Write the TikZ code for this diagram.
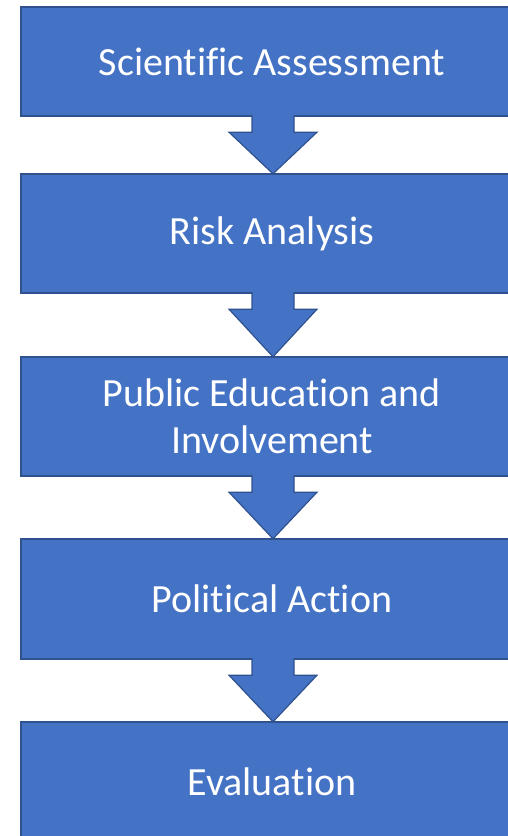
\documentclass[tikz,border=0pt]{standalone}
\usepackage{fontspec}
\setmainfont{Carlito}[Ligatures={NoCommon,NoContextual}]
\usetikzlibrary{calc,backgrounds}
\definecolor{boxfill}{HTML}{4472C4}
\definecolor{boxline}{HTML}{2F528F}
\newcommand\flowarrow[2]{%
  \draw[flow] let \p1=(#1.south), \p2=(#2.north) in
    (\x1-20,\y1+1) -- (\x1-20,\y1-16) -- (\x1-43,\y1-16) -- (\x1+1,\y2)
    -- (\x1+45,\y1-16) -- (\x1+22,\y1-16) -- (\x1+22,\y1+1);}
\newcommand\boxback[1]{%
  \draw[boxshape] (#1.north west) rectangle ([xshift=60pt]#1.south east);}
\begin{document}
\begin{tikzpicture}[x=1pt,y=1pt,
  box/.style={minimum width=502pt, inner sep=0pt, text=white,
    font=\fontsize{40}{47}\selectfont, align=center},
  boxshape/.style={draw=boxline, fill=boxfill, line width=1.5pt},
  flow/.style={draw=boxline, fill=boxfill, line width=1.2pt, line join=miter}]
\useasboundingbox (0,0) rectangle (508,836);
\clip (0,0) rectangle (508,836);
\node[box, minimum height=109pt] (b1) at (272,774.5) {Scientific Assessment};
\node[box, minimum height=119pt] (b2) at (272,602.5) {Risk Analysis};
\node[box, minimum height=119pt] (b3) at (272,419.5) {Public Education and\\Involvement};
\node[box, minimum height=120pt] (b4) at (272,237) {Political Action};
\node[box, minimum height=120pt] (b5) at (272,54) {Evaluation};
\begin{pgfonlayer}{background}
\fill[white] (0,0) rectangle (508,836);
\boxback{b1}
\boxback{b2}
\boxback{b3}
\boxback{b4}
\boxback{b5}
\end{pgfonlayer}
\flowarrow{b1}{b2}
\flowarrow{b2}{b3}
\flowarrow{b3}{b4}
\flowarrow{b4}{b5}
\end{tikzpicture}
\end{document}
